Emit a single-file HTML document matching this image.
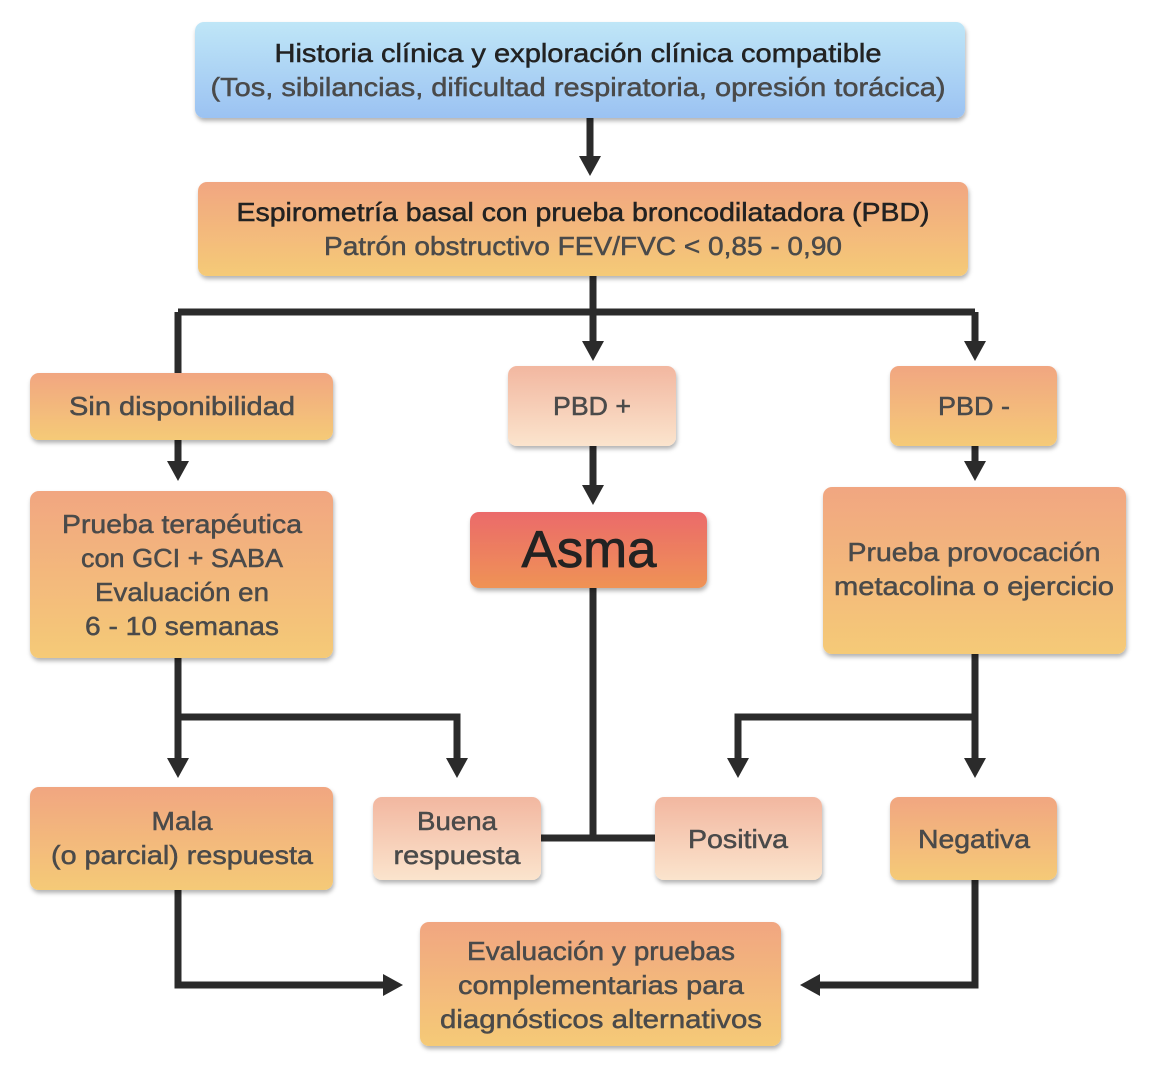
<!DOCTYPE html>
<html><head><meta charset="utf-8"><style>html,body{margin:0;padding:0;background:#fff}svg{display:block}</style></head>
<body>
<svg width="1152" height="1070" viewBox="0 0 1152 1070" xmlns="http://www.w3.org/2000/svg" font-family="Liberation Sans, Arial, sans-serif">
<defs>
<linearGradient id="blue" x1="0" y1="0" x2="0" y2="1"><stop offset="0" stop-color="#bfe6f7"/><stop offset="1" stop-color="#9bc2f2"/></linearGradient>
<linearGradient id="org" x1="0" y1="0" x2="0" y2="1"><stop offset="0" stop-color="#f1a681"/><stop offset="1" stop-color="#f5ca77"/></linearGradient>
<linearGradient id="lt" x1="0" y1="0" x2="0" y2="1"><stop offset="0" stop-color="#f2b7a0"/><stop offset="1" stop-color="#fbe4cd"/></linearGradient>
<linearGradient id="red" x1="0" y1="0" x2="0" y2="1"><stop offset="0" stop-color="#eb6a6a"/><stop offset="1" stop-color="#ef9356"/></linearGradient>
<filter id="sh" x="-10%" y="-10%" width="120%" height="130%"><feDropShadow dx="1" dy="3" stdDeviation="2" flood-color="#000" flood-opacity="0.3"/></filter>
</defs>

<g stroke="#2b2b2b" stroke-width="7" fill="none">
<path d="M590 118 V158"/>
<path d="M593 276 V312 M178 312 H975 M178 312 V373 M593 312 V343 M975 312 V343"/>
<path d="M178 440 V463"/>
<path d="M593 446 V488"/>
<path d="M975 446 V463"/>
<path d="M178 658 V760 M178 717 H457 V760"/>
<path d="M593 588 V838 M540 838 H655"/>
<path d="M975 654 V760 M975 717 H738 V760"/>
<path d="M178 890 V985 H385"/>
<path d="M975 880 V985 H818"/>
</g>
<g fill="#2b2b2b">
<path d="M579 156 H601 L590 176 Z"/>
<path d="M582 341 H604 L593 361 Z"/>
<path d="M964 341 H986 L975 361 Z"/>
<path d="M167 461 H189 L178 481 Z"/>
<path d="M582 485 H604 L593 505 Z"/>
<path d="M964 461 H986 L975 481 Z"/>
<path d="M167 758 H189 L178 778 Z"/>
<path d="M446 758 H468 L457 778 Z"/>
<path d="M727 758 H749 L738 778 Z"/>
<path d="M964 758 H986 L975 778 Z"/>
<path d="M383 974 V996 L403 985 Z"/>
<path d="M820 974 V996 L800 985 Z"/>
</g>

<g filter="url(#sh)">
<rect x="195" y="22" width="770" height="96" rx="9" fill="url(#blue)"/>
<rect x="198" y="182" width="770" height="94" rx="9" fill="url(#org)"/>
<rect x="30" y="373" width="303" height="67" rx="9" fill="url(#org)"/>
<rect x="508" y="366" width="168" height="80" rx="9" fill="url(#lt)"/>
<rect x="890" y="366" width="167" height="80" rx="9" fill="url(#org)"/>
<rect x="30" y="491" width="303" height="167" rx="9" fill="url(#org)"/>
<rect x="470" y="512" width="237" height="76" rx="9" fill="url(#red)"/>
<rect x="823" y="487" width="303" height="167" rx="9" fill="url(#org)"/>
<rect x="30" y="787" width="303" height="103" rx="9" fill="url(#org)"/>
<rect x="373" y="797" width="168" height="83" rx="9" fill="url(#lt)"/>
<rect x="655" y="797" width="167" height="83" rx="9" fill="url(#lt)"/>
<rect x="890" y="797" width="167" height="83" rx="9" fill="url(#org)"/>
<rect x="420" y="922" width="361" height="124" rx="9" fill="url(#org)"/>
</g>

<g font-size="26" text-anchor="middle" fill="#4a4a4a" stroke="#4a4a4a" stroke-width="0.5" lengthAdjust="spacingAndGlyphs">
<text x="578" y="62" fill="#222" stroke="#222" textLength="607" lengthAdjust="spacingAndGlyphs">Historia clínica y exploración clínica compatible</text>
<text x="578" y="96" textLength="735" lengthAdjust="spacingAndGlyphs">(Tos, sibilancias, dificultad respiratoria, opresión torácica)</text>
<text x="583" y="221" fill="#222" stroke="#222" textLength="693" lengthAdjust="spacingAndGlyphs">Espirometría basal con prueba broncodilatadora (PBD)</text>
<text x="583" y="255" textLength="518" lengthAdjust="spacingAndGlyphs">Patrón obstructivo FEV/FVC &lt; 0,85 - 0,90</text>
<text x="182" y="415" textLength="226" lengthAdjust="spacingAndGlyphs">Sin disponibilidad</text>
<text x="592" y="415" textLength="78" lengthAdjust="spacingAndGlyphs">PBD +</text>
<text x="974" y="415" textLength="72" lengthAdjust="spacingAndGlyphs">PBD -</text>
<text x="182" y="533" textLength="240" lengthAdjust="spacingAndGlyphs">Prueba terapéutica</text>
<text x="182" y="567" textLength="202" lengthAdjust="spacingAndGlyphs">con GCI + SABA</text>
<text x="182" y="601" textLength="174" lengthAdjust="spacingAndGlyphs">Evaluación en</text>
<text x="182" y="635" textLength="194" lengthAdjust="spacingAndGlyphs">6 - 10 semanas</text>
<text x="589" y="567" font-size="52" fill="#222" stroke="#222" stroke-width="0.8" textLength="135" lengthAdjust="spacingAndGlyphs">Asma</text>
<text x="974" y="561" textLength="253" lengthAdjust="spacingAndGlyphs">Prueba provocación</text>
<text x="974" y="595" textLength="280" lengthAdjust="spacingAndGlyphs">metacolina o ejercicio</text>
<text x="182" y="830" textLength="61" lengthAdjust="spacingAndGlyphs">Mala</text>
<text x="182" y="864" textLength="262" lengthAdjust="spacingAndGlyphs">(o parcial) respuesta</text>
<text x="457" y="830" textLength="80" lengthAdjust="spacingAndGlyphs">Buena</text>
<text x="457" y="864" textLength="127" lengthAdjust="spacingAndGlyphs">respuesta</text>
<text x="738" y="848" textLength="100" lengthAdjust="spacingAndGlyphs">Positiva</text>
<text x="974" y="848" textLength="112" lengthAdjust="spacingAndGlyphs">Negativa</text>
<text x="601" y="960" textLength="268" lengthAdjust="spacingAndGlyphs">Evaluación y pruebas</text>
<text x="601" y="994" textLength="286" lengthAdjust="spacingAndGlyphs">complementarias para</text>
<text x="601" y="1028" textLength="322" lengthAdjust="spacingAndGlyphs">diagnósticos alternativos</text>
</g>
</svg>
</body></html>
